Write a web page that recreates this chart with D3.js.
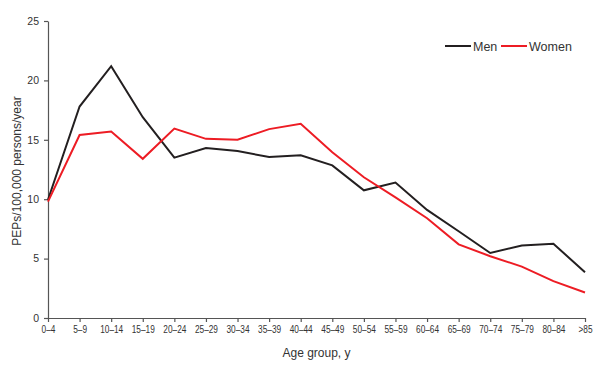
<!DOCTYPE html>
<html>
<head>
<meta charset="utf-8">
<script src="https://cdn.jsdelivr.net/npm/d3@7"></script>
<style>
  body { margin: 0; background: #fff; }
  svg { font-family: Arial, "Liberation Sans", sans-serif; }
</style>
</head>
<body>
<div id="chart"></div>
<script>
  //=========================================================================
  // Data
  //=========================================================================

  const ageGroups = ["0\u20134", "5\u20139", "10\u201314", "15\u201319", "20\u201324", "25\u201329",
    "30\u201334", "35\u201339", "40\u201344", "45\u201349", "50\u201354", "55\u201359", "60\u201364",
    "65\u201369", "70\u201374", "75\u201379", "80\u201384", ">85"];

  const men   = [9.95, 17.8, 21.2, 16.9, 13.5, 14.3, 14.05, 13.55, 13.7, 12.85, 10.75, 11.4,
                 9.1, 7.3, 5.47, 6.1, 6.25, 3.85];
  const women = [9.8, 15.4, 15.7, 13.4, 15.95, 15.08, 15.0, 15.9, 16.35, 13.95, 11.85, 10.15,
                 8.4, 6.2, 5.2, 4.33, 3.1, 2.15];

  const yTicks = [0, 5, 10, 15, 20, 25];

  const series = [
    { name: "Men", values: men, color: "#231f20" },
    { name: "Women", values: women, color: "#ed1c24" }
  ];

  //=========================================================================
  // Dimensions
  //=========================================================================

  var width = 600,
      height = 374;

  var margin = { top: 21, right: 15, bottom: 56, left: 48 },
      iwidth = width - margin.left - margin.right,
      iheight = height - margin.top - margin.bottom;

  var svg = d3.select("#chart")
    .append("svg")
    .attr("width", width)
    .attr("height", height);

  var g = svg.append("g")
    .attr("transform", `translate(${margin.left},${margin.top})`);

  //=========================================================================
  // Scales
  //=========================================================================

  var x = d3.scalePoint()
    .domain(ageGroups)
    .range([0, 537]);

  var y = d3.scaleLinear()
    .domain([0, 25])
    .range([iheight, 0]);

  //=========================================================================
  // Axes
  //=========================================================================

  var axisColor = "#555";
  var textColor = "#333";

  var xAxis = g.append("g")
    .attr("transform", `translate(0,${iheight})`)
    .call(d3.axisBottom(x).tickSize(4).tickPadding(4).tickSizeOuter(0));

  // labels in the original are set in a condensed face
  xAxis.selectAll("text")
    .attr("font-size", 10)
    .attr("transform", "scale(0.83,1)")
    .attr("fill", textColor);

  var yAxis = g.append("g")
    .call(d3.axisLeft(y).tickValues(yTicks).tickSize(4).tickPadding(5).tickSizeOuter(0));

  yAxis.selectAll("text")
    .attr("font-size", 10.5)
    .attr("fill", textColor);

  g.selectAll(".domain, .tick line")
    .attr("stroke", axisColor)
    .attr("stroke-width", 1.2);

  // axis labels
  g.append("text")
    .attr("x", 268.5)
    .attr("y", iheight + 39)
    .attr("text-anchor", "middle")
    .attr("font-size", 12)
    .attr("fill", textColor)
    .text("Age group, y");

  g.append("text")
    .attr("transform", `translate(-27,150)rotate(-90)`)
    .attr("text-anchor", "middle")
    .attr("font-size", 12)
    .attr("fill", textColor)
    .text("PEPs/100,000 persons/year");

  //=========================================================================
  // Lines
  //=========================================================================

  var line = d3.line()
    .x((d, i) => x(ageGroups[i]))
    .y((d) => y(d));

  g.selectAll(".series")
    .data(series)
    .enter()
    .append("path")
    .attr("class", "series")
    .attr("fill", "none")
    .attr("stroke", (d) => d.color)
    .attr("stroke-width", 2)
    .attr("stroke-linejoin", "miter")
    .attr("d", (d) => line(d.values));

  //=========================================================================
  // Legend
  //=========================================================================

  var legend = svg.selectAll(".legend")
    .data(series)
    .enter()
    .append("g")
    .attr("class", "legend")
    .attr("transform", (d, i) => `translate(${i === 0 ? 445 : 501},46)`);

  legend.append("line")
    .attr("x1", 0)
    .attr("x2", 26)
    .attr("stroke", (d) => d.color)
    .attr("stroke-width", 2);

  legend.append("text")
    .attr("x", 28)
    .attr("y", 4.5)
    .attr("font-size", 12.5)
    .attr("fill", textColor)
    .text((d) => d.name);
</script>
</body>
</html>
